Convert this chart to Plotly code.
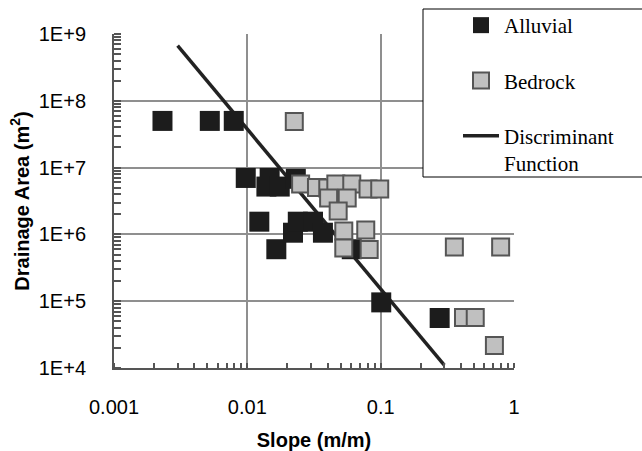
import plotly.graph_objects as go

# ---- data ----
alluvial_slope = [0.00231, 0.00523, 0.00791, 0.00973, 0.0147, 0.0139, 0.0175, 0.0231,
                  0.0123, 0.0165, 0.0220, 0.0239, 0.0311, 0.0369, 0.0607, 0.101, 0.277]
alluvial_area = [5.0e7, 5.0e7, 5.0e7, 7.0e6, 7.0e6, 5.2e6, 5.2e6, 6.8e6,
                 1.55e6, 6.0e5, 1.06e6, 1.55e6, 1.55e6, 1.06e6, 6.0e5, 9.6e4, 5.6e4]

bedrock_slope = [0.0225, 0.0251, 0.0330, 0.0401, 0.0461, 0.0607, 0.0804, 0.0984, 0.0561,
                 0.0407, 0.0480, 0.0529, 0.0773, 0.0529, 0.0820, 0.357, 0.794, 0.418,
                 0.512, 0.713]
bedrock_area = [4.9e7, 5.7e6, 5.05e6, 4.96e6, 5.7e6, 5.7e6, 4.8e6, 4.8e6, 3.5e6,
                3.5e6, 2.24e6, 1.12e6, 1.16e6, 6.25e5, 5.94e5, 6.5e5, 6.5e5, 5.7e4,
                5.7e4, 2.17e4]

disc_slope = [0.003, 0.3]
disc_area = [6.7e8, 1.1e4]

x_tickvals = [0.001, 0.01, 0.1, 1]
x_ticktext = ["0.001", "0.01", "0.1", "1"]
y_tickvals = [1e4, 1e5, 1e6, 1e7, 1e8, 1e9]
y_ticktext = ["1E+4", "1E+5", "1E+6", "1E+7", "1E+8", "1E+9"]

# ---- figure ----
fig = go.Figure()
fig.add_trace(go.Scatter(
    x=disc_slope, y=disc_area, mode="lines", name="Discriminant<br>Function",
    line=dict(color="#222222", width=3.5), legendrank=3, legendgroup="c"))
fig.add_trace(go.Scatter(
    x=alluvial_slope, y=alluvial_area, mode="markers", name="Alluvial",
    marker=dict(symbol="square", size=20, color="#1c1c1c",
                line=dict(width=0)), legendrank=1, legendgroup="a"))
fig.add_trace(go.Scatter(
    x=bedrock_slope, y=bedrock_area, mode="markers", name="Bedrock",
    marker=dict(symbol="square", size=17, color="#c0c0c0",
                line=dict(width=2, color="#555555")), legendrank=2, legendgroup="b"))

L, R, T, B = 114, 128, 34, 83
W, H = 642, 451
pw, ph = W - L - R, H - T - B

def px2paper_x(px):
    return (px - L) / pw

def px2paper_y(py):
    return 1 - (py - T) / ph

axis_font = dict(family="Liberation Sans, Arial", size=20, color="black")

fig.update_layout(
    width=W, height=H,
    margin=dict(l=L, r=R, t=T, b=B, pad=0, autoexpand=False),
    paper_bgcolor="white", plot_bgcolor="white",
    showlegend=True,
    legend=dict(
        x=px2paper_x(458), y=px2paper_y(5), xanchor="left", yanchor="top",
        bgcolor="rgba(0,0,0,0)", borderwidth=0, itemwidth=36,
        font=dict(family="Liberation Serif, Times New Roman", size=21, color="black"),
        traceorder="grouped", tracegroupgap=25, valign="top",
    ),
    shapes=[dict(type="rect", xref="paper", yref="paper",
                 x0=px2paper_x(423), x1=px2paper_x(660),
                 y0=px2paper_y(177), y1=px2paper_y(9),
                 line=dict(color="black", width=1), fillcolor="white", layer="above")],
)

fig.update_xaxes(
    type="log", range=[-3, 0],
    tickvals=x_tickvals, ticktext=x_ticktext, tickfont=axis_font,
    ticks="", ticklabelstandoff=20,
    showgrid=True, gridcolor="#8f8f8f", gridwidth=2,
    showline=True, linecolor="#555555", linewidth=2, zeroline=False,
    minor=dict(ticks="inside", ticklen=5, tickwidth=1.5, tickcolor="#555555",
               showgrid=False, dtick="D1"),
    title=dict(text="<b>Slope (m/m)</b>", font=dict(family="Liberation Sans, Arial", size=20, color="black"),
               standoff=17),
)
fig.update_yaxes(
    type="log", range=[4, 9],
    tickvals=y_tickvals, ticktext=y_ticktext, tickfont=axis_font,
    ticks="", ticklabelstandoff=22,
    showgrid=True, gridcolor="#8f8f8f", gridwidth=2,
    showline=True, linecolor="#555555", linewidth=2, zeroline=False,
    minor=dict(ticks="inside", ticklen=7, tickwidth=1.5, tickcolor="#555555",
               showgrid=False, dtick="D1"),
    title=dict(text="<b>Drainage Area (m<sup>2</sup>)</b>",
               font=dict(family="Liberation Sans, Arial", size=20, color="black"),
               standoff=4),
)

fig.write_html("out.html")
